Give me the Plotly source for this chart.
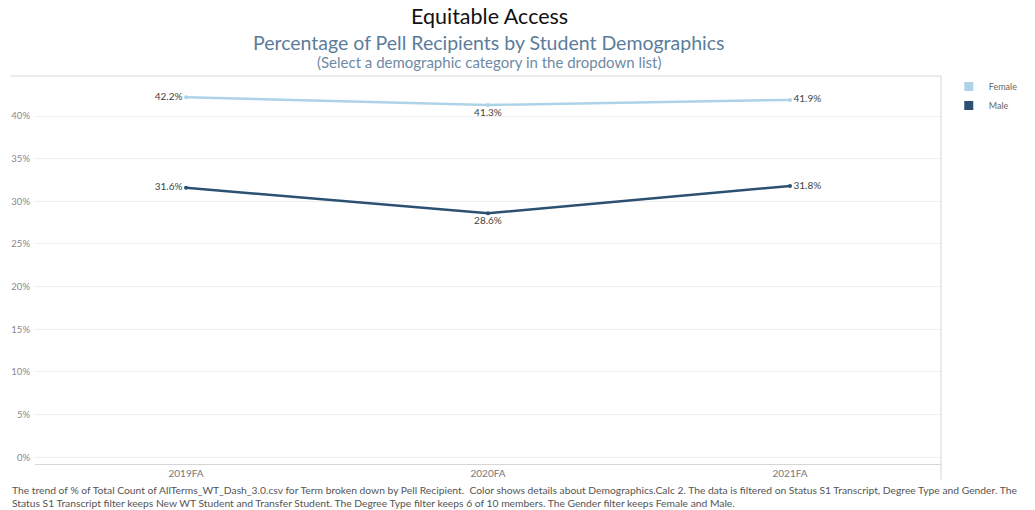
import plotly.graph_objects as go

terms = ["2019FA", "2020FA", "2021FA"]
female = [42.2, 41.3, 41.9]
male = [31.6, 28.6, 31.8]
y_ticks = [0, 5, 10, 15, 20, 25, 30, 35, 40]
y_tick_labels = [f"{v}%" for v in y_ticks]

title = "Equitable Access"
subtitle = "Percentage of Pell Recipients by Student Demographics"
subsub = "(Select a demographic category in the dropdown list)"
footer = ("The trend of % of Total Count of AllTerms_WT_Dash_3.0.csv for Term broken down by Pell Recipient.  Color shows details about Demographics.Calc 2. The data is filtered on Status S1 Transcript, Degree Type and Gender. The<br>"
          "Status S1 Transcript filter keeps New WT Student and Transfer Student. The Degree Type filter keeps 6 of 10 members. The Gender filter keeps Female and Male.")

c_female = "#aed3e8"
c_male = "#2c5070"
font = "Lato, Open Sans, sans-serif"

# plot area in pixels
L, R, T, B = 35, 968, 76, 464
W, H = R - L, B - T


def px_x(px):
    return (px - L) / W


def px_y(py):
    return (B - py) / H


fig = go.Figure()
pos = ["middle left", "bottom center", "middle right"]
for name, vals, col in [("Female", female, c_female), ("Male", male, c_male)]:
    fig.add_trace(go.Scatter(
        x=terms, y=vals, name=name, mode="lines+markers+text",
        line=dict(color=col, width=2.5),
        marker=dict(color=col, size=4),
        text=[f"{v:.1f}%" for v in vals], textposition=pos,
        textfont=dict(size=10, color="#444444", family=font),
        cliponaxis=False, showlegend=False,
    ))
    # legend entry as square swatch
    fig.add_trace(go.Scatter(
        x=[None], y=[None], name=name, mode="markers",
        marker=dict(color=col, size=9, symbol="square"),
        showlegend=True,
    ))

fig.update_layout(
    width=1035, height=510,
    margin=dict(l=L, r=1035 - R, t=T, b=510 - B),
    paper_bgcolor="white", plot_bgcolor="white",
    font=dict(family=font, color="#666666"),
    showlegend=True,
    legend=dict(x=px_x(976), y=px_y(72), xanchor="left", yanchor="top",
                font=dict(size=9, color="#666666"),
                tracegroupgap=0, itemwidth=30, bgcolor="rgba(0,0,0,0)"),
    xaxis=dict(type="category", range=[-0.5, 2.5], showgrid=False,
               showline=True, linecolor="#d6d6d6", ticks="",
               tickfont=dict(size=10, color="#777777"), zeroline=False),
    yaxis=dict(range=[-0.8, 44.7], tickvals=y_ticks, ticktext=y_tick_labels,
               showgrid=True, gridcolor="#eeeeee", zeroline=False,
               showline=False, ticks="", ticklabelstandoff=4,
               tickfont=dict(size=9.5, color="#888888")),
)

for txt, yy, sz, col in [(title, 16, 21.5, "#111111"), (subtitle, 42, 19.5, "#5b7d9c"), (subsub, 62, 15, "#6f8aa4")]:
    fig.add_annotation(text=txt, x=px_x(503), xref="paper", xanchor="center",
                       y=px_y(yy), yref="paper", yanchor="middle", showarrow=False,
                       font=dict(size=sz, color=col, family=font))

fig.add_annotation(text=footer, xref="paper", yref="paper", x=px_x(9), y=px_y(482),
                   xanchor="left", yanchor="top", align="left", showarrow=False,
                   font=dict(size=10.3, color="#555555", family=font))

# frame lines: top border and right border
fig.add_shape(type="line", xref="paper", yref="paper", x0=px_x(10), x1=1, y0=1, y1=1,
              line=dict(color="#d6d6d6", width=1))
fig.add_shape(type="line", xref="paper", yref="paper", x0=1, x1=1, y0=1, y1=px_y(480),
              line=dict(color="#d6d6d6", width=1))

fig.write_html("out.html")
